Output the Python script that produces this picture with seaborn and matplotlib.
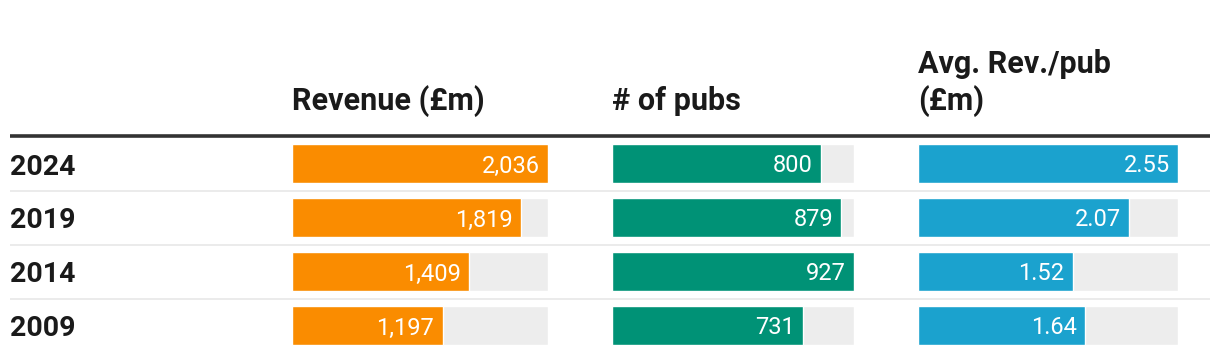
import matplotlib
matplotlib.use("Agg")
import matplotlib.pyplot as plt
import seaborn as sns
import pandas as pd
from matplotlib.lines import Line2D

sns.set_theme(style="white")
plt.rcParams['font.family'] = ['Roboto', 'DejaVu Sans']

years = ["2024", "2019", "2014", "2009"]
revenue = [2036, 1819, 1409, 1197]
pubs = [800, 879, 927, 731]
avg_rev = [2.55, 2.07, 1.52, 1.64]

headers = ["Revenue (£m)", "# of pubs", "Avg. Rev./pub\n(£m)"]
colors = ["#fa8c00", "#009276", "#1ba2ce"]
formats = ["{:,.0f}", "{:,.0f}", "{:.2f}"]
series = [revenue, pubs, avg_rev]

W, H = 1220, 362
fig = plt.figure(figsize=(W / 100, H / 100), dpi=100)

# column geometry in pixels: (left, width)
cols = [(292, 256), (612, 242), (918, 260)]
top_px, bottom_px = 136.5, 352.5

for (left, width), vals, col, fmt in zip(cols, series, colors, formats):
    ax = fig.add_axes([left / W, 1 - bottom_px / H, width / W, (bottom_px - top_px) / H])
    df = pd.DataFrame({"year": years, "value": vals, "max": [max(vals)] * len(vals)})
    sns.barplot(data=df, x="max", y="year", orient="h", color="#ededed",
                width=0.72, ax=ax, saturation=1)
    sns.barplot(data=df, x="value", y="year", orient="h", color=col,
                width=0.72, ax=ax, saturation=1)
    ax.set_xlim(0, max(vals))
    ax.set_ylim(len(years) - 0.5, -0.5)
    ax.axis("off")
    for i, v in enumerate(vals):
        ax.annotate(fmt.format(v), xy=(v, i), xytext=(-6, 0), textcoords="offset points",
                    ha="right", va="center_baseline", color="white", fontsize=17,
                    fontweight="normal")

def px(x, y):
    return x / W, 1 - y / H

# header texts
fig.text(*px(292, 110), headers[0], ha="left", va="baseline", fontsize=22,
         fontweight="bold", color="#1a1a1a")
fig.text(*px(612, 110), headers[1], ha="left", va="baseline", fontsize=22,
         fontweight="bold", color="#1a1a1a")
l1, l2 = headers[2].split("\n")
fig.text(*px(918, 73), l1, ha="left", va="baseline", fontsize=22,
         fontweight="bold", color="#1a1a1a")
fig.text(*px(918, 110), l2, ha="left", va="baseline", fontsize=22,
         fontweight="bold", color="#1a1a1a")

# year labels
for i, y in enumerate(years):
    by = 174.5 + 54 * i
    fig.text(*px(10, by), y, ha="left", va="baseline", fontsize=20.5,
             fontweight="bold", color="#1a1a1a")

# header rule
fig.add_artist(Line2D([10 / W, 1210 / W], [1 - 135.7 / H] * 2, color="#333333",
                      linewidth=2.6, solid_capstyle="butt", transform=fig.transFigure))
# row separators
for i in range(3):
    yy = 190.8 + 54 * i
    fig.add_artist(Line2D([10 / W, 1210 / W], [1 - yy / H] * 2, color="#ebebeb",
                          linewidth=1.4, solid_capstyle="butt", transform=fig.transFigure))

fig.savefig("out.png", dpi=100)
